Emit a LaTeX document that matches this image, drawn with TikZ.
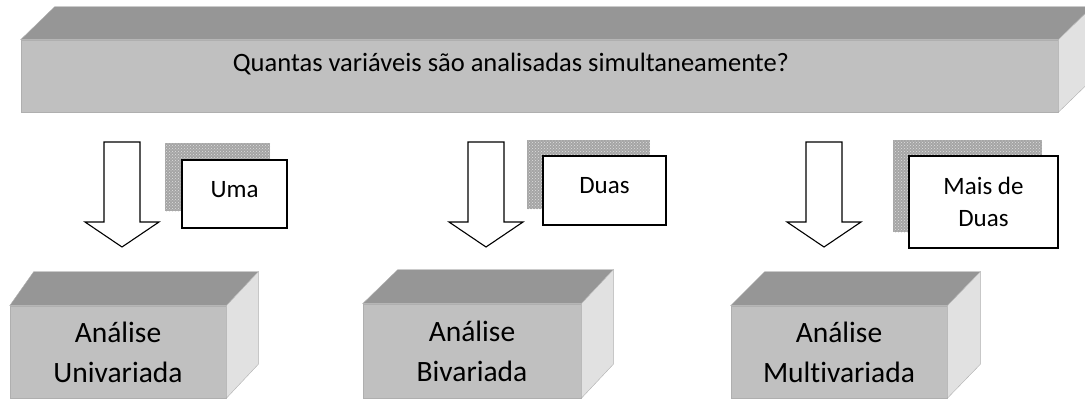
\documentclass[tikz,border=0pt]{standalone}
\usepackage{fontspec}
\setmainfont{Carlito}[Ligatures=NoCommon]
\usetikzlibrary{positioning,patterns}
\definecolor{frente}{RGB}{192,192,192}
\definecolor{topo}{RGB}{150,150,150}
\definecolor{lado}{RGB}{225,225,225}
\definecolor{aresta}{RGB}{175,175,175}
\definecolor{sombra}{RGB}{165,165,165}

\begin{document}
\begin{tikzpicture}[x=1pt,y=-1pt,
	face/.style={fill=frente,draw=aresta,line width=0.6pt,inner sep=0pt},
	tampa/.style={fill=topo,draw=aresta,line width=0.4pt},
	lateral/.style={fill=lado,draw=aresta,line width=0.4pt},
	caixa/.style={fill=white,draw=black,line width=1.1pt,inner sep=0pt,align=center,font=\fontsize{25}{32}\selectfont},
	fundo/.style={preaction={fill=sombra},pattern=crosshatch dots,pattern color=white!75!gray,inner sep=0pt},
	seta/.style={draw=black,fill=white,line width=1.1pt,line join=miter},
	resposta/.style={align=center,font=\fontsize{29.5}{40}\selectfont}]
		\useasboundingbox (0,0) rectangle (1085,399);
		% pergunta
		\node[face,minimum width=1037pt,minimum height=72pt](pergunta) at (539.5,76) {};
		\draw[tampa] (pergunta.north west) -- ++(34,-33) -- ([shift={(34,-33)}]pergunta.north east) -- (pergunta.north east) -- cycle;
		\draw[lateral] (pergunta.north east) -- ++(34,-33) -- ([shift={(34,-33)}]pergunta.south east) -- (pergunta.south east) -- cycle;
		\node[anchor=base,font=\fontsize{26.5}{30}\selectfont](txtpergunta) at (511,71) {Quantas variáveis são analisadas simultaneamente?};
		% setas
		\coordinate (s1) at (122,142);
		\coordinate (s2) at (486,142);
		\coordinate (s3) at (824,142);
		\draw[seta] ([xshift=-18pt]s1) -- ++(36,0) -- ++(0,80) -- ++(19,0) -- ++(-37,25) -- ++(-37,-25) -- ++(19,0) -- cycle;
		\draw[seta] ([xshift=-18pt]s2) -- ++(36,0) -- ++(0,80) -- ++(19,0) -- ++(-37,25) -- ++(-37,-25) -- ++(19,0) -- cycle;
		\draw[seta] ([xshift=-18pt]s3) -- ++(36,0) -- ++(0,80) -- ++(19,0) -- ++(-37,25) -- ++(-37,-25) -- ++(19,0) -- cycle;
		% rotulos
		\node[fundo,minimum width=105pt,minimum height=68pt](fuma) at (217.5,177) {};
		\node[caixa,text depth=10pt,minimum width=105pt,minimum height=68pt](uma) at (234.5,194) {Uma};
		\node[fundo,minimum width=123pt,minimum height=69pt](fduas) at (588.5,174.5) {};
		\node[caixa,text depth=10pt,minimum width=123pt,minimum height=69pt](duas) at (604.5,190.5) {Duas};
		\node[fundo,minimum width=149pt,minimum height=92pt](fmais) at (967.5,186) {};
		\node[caixa,minimum width=149pt,minimum height=92pt](mais) at (983.5,202) {Mais de\\Duas};
		% analises
		\node[face,resposta,minimum width=216pt,minimum height=92pt](uni) at (118,352) {Análise\\Univariada};
		\draw[tampa] (uni.north west) -- ++(24,-34) -- ([shift={(32,-34)}]uni.north east) -- (uni.north east) -- cycle;
		\draw[lateral] (uni.north east) -- ++(32,-34) -- ([shift={(32,-34)}]uni.south east) -- (uni.south east) -- cycle;
		\node[face,resposta,minimum width=218pt,minimum height=94pt](bi) at (472,351) {Análise\\Bivariada};
		\draw[tampa] (bi.north west) -- ++(35,-34) -- ([shift={(32,-34)}]bi.north east) -- (bi.north east) -- cycle;
		\draw[lateral] (bi.north east) -- ++(32,-34) -- ([shift={(32,-34)}]bi.south east) -- (bi.south east) -- cycle;
		\node[face,resposta,minimum width=216pt,minimum height=92pt](multi) at (839,352) {Análise\\Multivariada};
		\draw[tampa] (multi.north west) -- ++(34,-34) -- ([shift={(33,-34)}]multi.north east) -- (multi.north east) -- cycle;
		\draw[lateral] (multi.north east) -- ++(33,-34) -- ([shift={(33,-34)}]multi.south east) -- (multi.south east) -- cycle;
\end{tikzpicture}
\end{document}
